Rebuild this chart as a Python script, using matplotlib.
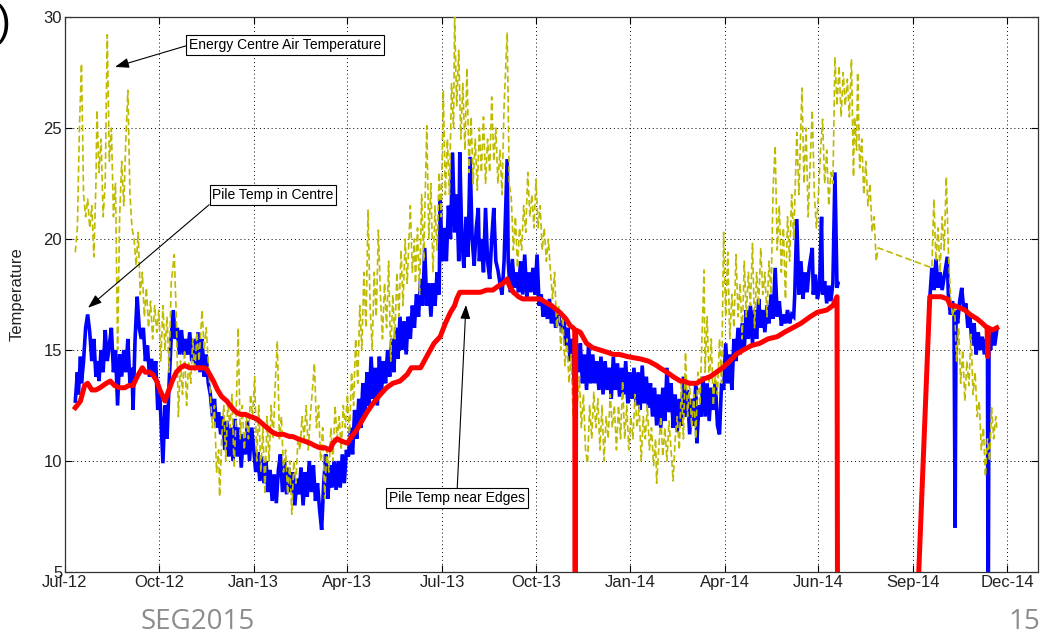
import numpy as np
import matplotlib
matplotlib.use('Agg')
import matplotlib.pyplot as plt

# x axis: days since 1 Jul 2012
TICK_DAYS = [0, 91, 183, 274, 366, 457, 548, 640, 731, 823, 914]
TICK_LABELS = ['Jul-12', 'Oct-12', 'Jan-13', 'Apr-13', 'Jul-13', 'Oct-13',
               'Jan-14', 'Apr-14', 'Jun-14', 'Sep-14', 'Dec-14']

# Energy Centre air temperature (day, degC)
AIR = [
    (10, 19.4), (12, 20.5), (14, 25.0), (16, 27.9), (18, 22.0), (20, 21.0), (22, 21.8), (24, 20.5),
    (26, 21.5), (28, 19.2), (30, 22.5), (31, 25.8), (33, 23.0), (35, 24.5), (37, 21.0), (39, 22.5),
    (41, 29.2), (43, 23.5), (45, 25.0), (47, 21.0), (49, 22.5), (51, 15.0), (53, 21.0), (55, 23.5),
    (57, 21.5), (59, 24.5), (61, 26.7), (63, 22.0), (65, 20.5), (67, 20.0), (69, 18.8), (71, 20.3),
    (73, 17.5), (75, 18.5), (77, 16.5), (79, 17.8), (81, 16.0), (83, 17.2), (85, 15.5), (87, 17.0),
    (89, 15.8), (91, 16.8), (93, 14.5), (95, 17.0), (97, 15.0), (99, 16.5), (101, 14.0), (103, 18.0),
    (106, 19.3), (108, 16.5), (110, 12.0), (112, 14.5), (114, 13.0), (116, 15.0), (118, 12.5),
    (120, 14.5), (122, 13.5), (124, 15.5), (126, 14.0), (128, 15.8), (130, 14.5), (133, 16.8),
    (135, 15.0), (137, 16.0), (139, 14.5), (141, 13.0), (143, 11.5), (145, 12.5), (147, 9.5),
    (149, 10.5), (150, 8.4), (152, 11.0), (154, 12.5), (156, 10.0), (158, 12.7), (160, 11.5),
    (162, 13.0), (164, 9.7), (166, 12.0), (168, 16.0), (170, 11.0), (172, 12.5), (174, 10.5),
    (176, 12.0), (178, 11.0), (180, 13.0), (182, 12.0), (184, 13.8), (186, 10.0), (188, 12.5),
    (190, 9.5), (192, 11.5), (194, 8.5), (196, 12.0), (198, 10.0), (200, 12.5), (202, 11.0),
    (204, 13.5), (206, 15.4), (208, 11.0), (210, 12.0), (212, 9.5), (214, 10.5), (216, 8.5),
    (218, 10.0), (220, 7.6), (222, 10.0), (224, 9.0), (226, 11.0), (228, 10.5), (230, 12.0),
    (232, 11.0), (234, 12.5), (236, 10.5), (238, 12.0), (242, 14.4), (244, 11.5), (246, 12.5),
    (248, 10.0), (250, 11.5), (252, 8.3), (254, 10.5), (256, 9.5), (258, 11.5), (260, 10.0),
    (262, 12.5), (264, 11.0), (266, 12.0), (268, 10.5), (270, 12.5), (272, 11.5), (274, 13.0),
    (276, 11.0), (278, 14.0), (280, 12.5), (282, 15.5), (284, 13.5), (286, 17.0), (288, 15.0),
    (290, 18.5), (292, 16.0), (294, 21.3), (296, 17.0), (298, 15.0), (300, 18.5), (302, 16.5),
    (304, 20.4), (306, 17.5), (308, 15.5), (310, 18.0), (312, 16.0), (314, 19.0), (316, 14.5),
    (318, 17.5), (320, 15.5), (322, 18.5), (324, 16.5), (326, 19.5), (328, 17.0), (330, 20.0),
    (332, 18.0), (335, 21.5), (337, 18.5), (339, 20.0), (340, 18.0), (342, 20.5), (344, 17.5),
    (346, 22.0), (348, 19.0), (351, 25.1), (353, 20.0), (355, 22.5), (357, 18.5), (359, 21.5),
    (361, 19.5), (363, 23.0), (365, 21.0), (367, 26.7), (369, 22.0), (371, 24.5), (373, 22.0),
    (375, 27.0), (377, 25.0), (378, 30.0), (380, 26.0), (382, 28.5), (384, 24.5), (386, 27.0),
    (388, 24.0), (390, 27.7), (392, 23.0), (394, 25.5), (396, 22.5), (398, 24.5), (400, 22.2),
    (402, 25.0), (404, 23.0), (406, 25.5), (408, 22.5), (410, 24.5), (412, 23.0), (414, 26.4),
    (416, 23.5), (418, 25.0), (420, 22.5), (422, 24.0), (424, 22.0), (426, 26.0), (429, 29.3),
    (431, 22.5), (433, 21.8), (435, 19.5), (437, 21.0), (439, 18.7), (441, 20.5), (443, 19.5),
    (445, 21.5), (447, 20.3), (449, 23.0), (451, 21.0), (453, 22.0), (455, 20.5), (457, 22.7),
    (459, 20.5), (461, 21.5), (463, 19.5), (465, 20.5), (467, 19.0), (469, 20.0), (471, 18.5),
    (473, 17.3), (475, 18.5), (477, 16.0), (479, 17.0), (481, 15.0), (483, 16.5), (485, 14.3),
    (487, 15.5), (489, 13.5), (491, 14.8), (493, 12.0), (495, 14.0), (497, 12.5), (499, 13.8),
    (501, 11.5), (503, 13.0), (505, 10.5), (507, 9.9), (509, 12.5), (511, 11.0), (513, 13.1),
    (515, 11.5), (517, 12.8), (519, 10.5), (521, 12.5), (523, 10.0), (525, 12.0), (527, 11.0),
    (529, 13.0), (531, 11.5), (533, 12.5), (535, 10.5), (537, 12.5), (539, 11.0), (541, 13.6),
    (543, 11.0), (545, 12.5), (547, 10.5), (549, 12.0), (551, 11.0), (553, 13.0), (555, 11.5),
    (557, 12.5), (559, 10.0), (561, 12.0), (563, 11.0), (565, 12.5), (567, 10.5), (569, 11.5),
    (571, 9.8), (573, 11.0), (574, 9.0), (576, 10.5), (578, 12.0), (580, 10.2), (582, 11.5),
    (584, 10.0), (586, 11.8), (588, 10.5), (590, 9.1), (592, 11.0), (594, 12.0), (596, 10.5),
    (598, 13.5), (600, 11.0), (602, 14.9), (604, 12.0), (606, 13.5), (608, 11.5), (610, 13.0),
    (612, 11.0), (614, 14.0), (616, 12.5), (618, 15.5), (620, 18.6), (621, 14.0), (623, 16.5),
    (625, 13.5), (627, 15.5), (629, 12.5), (631, 14.0), (633, 13.0), (635, 15.5), (637, 13.5),
    (639, 20.3), (641, 16.5), (643, 19.4), (645, 15.5), (647, 17.5), (649, 16.0), (651, 19.3),
    (653, 16.5), (655, 18.0), (657, 15.5), (659, 19.0), (661, 16.5), (663, 18.5), (665, 17.0),
    (667, 19.8), (669, 16.0), (671, 18.5), (673, 17.0), (675, 19.6), (677, 17.5), (679, 18.5),
    (681, 16.5), (683, 19.0), (685, 17.5), (687, 22.3), (689, 24.2), (691, 19.5), (693, 21.5),
    (695, 18.5), (697, 20.5), (699, 17.3), (701, 21.0), (703, 19.0), (705, 22.0), (707, 20.0),
    (710, 24.8), (712, 22.0), (715, 26.8), (717, 22.5), (719, 25.0), (721, 21.0), (723, 23.5),
    (725, 25.8), (727, 22.0), (729, 20.5), (731, 22.0), (733, 24.0), (735, 25.4), (737, 22.5),
    (739, 24.0), (741, 21.5), (743, 23.0), (745, 22.5), (747, 28.2), (749, 26.0), (751, 27.8),
    (753, 25.5), (755, 27.5), (757, 26.0), (759, 27.2), (761, 25.5), (763, 28.1), (765, 22.8),
    (766, 25.5), (768, 24.0), (769, 27.5), (771, 23.2), (773, 24.5), (775, 22.0), (777, 23.5),
    (779, 21.5), (781, 22.5), (783, 20.3), (785, 21.0), (787, 19.0), (789, 19.6),
    (841, 18.7), (843, 21.8), (845, 19.0), (847, 20.5), (849, 18.5), (851, 21.0), (853, 19.5),
    (855, 22.8), (857, 19.5), (859, 17.5), (861, 16.5), (863, 17.0), (865, 14.5), (867, 16.0),
    (869, 13.5), (871, 15.0), (873, 12.7), (875, 14.5), (877, 13.4), (879, 15.7), (881, 13.0),
    (883, 14.0), (885, 12.0), (887, 12.7), (889, 10.5), (891, 11.5), (893, 9.3), (895, 11.0),
    (897, 10.0), (899, 12.4), (901, 11.0), (903, 12.0), (904, 11.5),
]

# pile temperature in centre, first and second logging periods
CENTRE_A = [
    (10, 12.7), (12, 14.0), (13, 13.0), (15, 14.7), (16, 13.5), (18, 14.5), (20, 16.0), (22, 16.6),
    (24, 15.8), (26, 14.5), (28, 15.5), (30, 13.8), (31, 14.5), (33, 13.6), (35, 15.0), (37, 14.0),
    (39, 15.9), (41, 14.5), (43, 15.2), (45, 16.0), (47, 14.0), (49, 15.0), (51, 12.5), (53, 14.8),
    (55, 13.8), (57, 15.0), (59, 14.0), (61, 15.5), (63, 13.5), (65, 14.2), (66, 12.3), (68, 15.5),
    (70, 17.4), (72, 16.0), (74, 15.5), (76, 16.0), (78, 14.5), (80, 15.2), (82, 13.8), (84, 14.6),
    (86, 13.8), (88, 14.5), (90, 12.3), (92, 13.0), (94, 11.0), (95, 9.9), (97, 12.5), (99, 11.0),
    (101, 13.5), (103, 15.5), (105, 16.8), (107, 15.5), (109, 16.0), (111, 14.8), (113, 15.9),
    (115, 14.8), (117, 15.5), (119, 14.8), (121, 15.8), (123, 14.5), (125, 15.5), (127, 14.2),
    (129, 15.8), (131, 14.0), (133, 15.5), (135, 13.8), (137, 14.8), (139, 13.5), (141, 13.0),
    (143, 12.0), (145, 12.8), (147, 11.5), (149, 12.2), (151, 11.2), (153, 12.0), (155, 10.5),
    (157, 11.8), (159, 10.2), (161, 11.5), (163, 10.0), (165, 11.9), (167, 10.2), (169, 11.5),
    (171, 9.7), (173, 11.2), (175, 10.3), (177, 11.8), (179, 10.0), (181, 11.5), (183, 10.6),
    (185, 9.5), (187, 10.4), (189, 9.1), (191, 10.2), (193, 9.0), (195, 10.0), (197, 8.6),
    (199, 9.6), (201, 8.2), (203, 9.4), (205, 8.1), (207, 9.6), (209, 10.3), (211, 8.6),
    (213, 10.0), (215, 8.5), (217, 9.7), (219, 8.6), (221, 9.5), (223, 8.0), (225, 9.2),
    (227, 8.5), (229, 9.7), (231, 8.0), (233, 9.5), (235, 8.4), (237, 10.0), (239, 8.6),
    (241, 9.8), (243, 8.2), (245, 9.0), (247, 7.8), (249, 6.9), (251, 9.0), (253, 10.3),
    (255, 8.3), (257, 9.8), (259, 8.8), (261, 10.0), (263, 8.7), (265, 10.0), (267, 8.8),
    (269, 10.3), (271, 9.0), (273, 10.5), (275, 10.2), (277, 11.5), (279, 10.3), (281, 12.3),
    (283, 11.0), (285, 12.8), (287, 11.5), (289, 13.5), (291, 12.0), (293, 14.0), (295, 12.5),
    (297, 14.7), (299, 12.8), (301, 14.2), (303, 12.5), (305, 14.7), (307, 13.1), (309, 14.5),
    (311, 13.5), (313, 15.0), (315, 13.8), (317, 15.5), (319, 14.0), (321, 16.0), (323, 14.6),
    (325, 16.5), (327, 15.0), (329, 16.3), (331, 14.8), (333, 16.5), (335, 15.5), (337, 17.0),
    (339, 16.0), (341, 17.5), (343, 16.5), (345, 18.2), (347, 17.0), (349, 19.6), (351, 17.0),
    (353, 18.0), (355, 16.5), (357, 18.0), (359, 17.0), (361, 18.5), (363, 17.5), (364, 21.8),
    (366, 19.0), (368, 20.5), (370, 19.0), (372, 21.5), (374, 20.0), (376, 23.9), (378, 20.3),
    (380, 22.0), (382, 19.0), (383, 23.9), (385, 20.0), (387, 18.7), (389, 21.0), (391, 19.2),
    (393, 23.7), (395, 20.0), (397, 18.8), (399, 20.5), (401, 21.4), (402, 19.0), (404, 20.0),
    (406, 18.5), (408, 21.4), (410, 19.0), (412, 18.2), (414, 20.0), (416, 21.4), (418, 19.0),
    (420, 18.6), (422, 18.0), (424, 17.5), (426, 19.0), (429, 23.6), (430, 19.0), (432, 17.6),
    (434, 19.1), (436, 17.8), (438, 18.5), (440, 17.6), (442, 19.0), (444, 17.5), (446, 19.3),
    (448, 17.4), (450, 18.5), (452, 17.6), (454, 18.7), (456, 17.5), (458, 19.3), (460, 17.0),
    (462, 17.5), (464, 16.5), (466, 17.2), (468, 16.4), (470, 17.3), (472, 16.2), (474, 17.0),
    (476, 16.0), (478, 16.8), (480, 16.3), (482, 15.8), (484, 16.4), (486, 15.2), (488, 16.0),
    (490, 14.5), (492, 15.5), (494, 13.6), (496, 15.0), (498, 14.0), (500, 15.3), (502, 13.5),
    (504, 14.8), (506, 13.2), (508, 15.3), (510, 13.5), (512, 14.8), (514, 13.5), (516, 14.5),
    (518, 13.2), (520, 14.7), (522, 13.0), (524, 14.5), (526, 13.2), (528, 14.2), (530, 12.8),
    (532, 14.7), (534, 13.2), (536, 14.4), (538, 12.9), (540, 14.2), (542, 13.0), (544, 14.5),
    (546, 12.6), (548, 14.0), (550, 12.8), (552, 14.2), (554, 12.5), (556, 14.0), (558, 12.3),
    (560, 14.3), (562, 12.6), (564, 13.8), (566, 12.4), (568, 13.5), (570, 12.0), (572, 13.3),
    (574, 11.6), (576, 13.0), (578, 11.5), (580, 13.3), (582, 11.8), (584, 14.2), (586, 12.2),
    (588, 13.5), (590, 11.5), (592, 13.0), (594, 11.3), (596, 12.8), (598, 11.6), (600, 13.8),
    (602, 12.0), (604, 13.2), (606, 11.2), (608, 12.8), (610, 11.6), (612, 13.5), (613, 10.8),
    (615, 12.5), (617, 12.0), (619, 13.8), (621, 12.0), (623, 13.5), (625, 11.8), (627, 13.3),
    (629, 12.3), (631, 13.5), (633, 11.6), (635, 11.2), (637, 13.5), (639, 13.2), (641, 15.3),
    (643, 13.5), (645, 14.8), (647, 13.2), (649, 15.5), (651, 14.5), (653, 16.0), (655, 14.8),
    (657, 16.2), (659, 15.0), (661, 16.8), (663, 15.5), (665, 17.0), (667, 15.3), (669, 16.8),
    (671, 15.5), (673, 17.3), (675, 16.0), (677, 16.8), (679, 15.8), (681, 17.0), (683, 16.2),
    (685, 17.5), (687, 16.4), (689, 18.7), (691, 16.5), (693, 17.2), (695, 16.1), (697, 16.6),
    (699, 16.2), (701, 16.8), (703, 16.2), (705, 16.6), (707, 16.5), (708, 17.5), (710, 20.9),
    (712, 17.5), (714, 19.0), (716, 17.3), (718, 18.5), (720, 17.6), (722, 18.7), (725, 19.6),
    (726, 17.5), (728, 18.4), (730, 17.3), (732, 17.8), (734, 21.0), (735, 17.5), (737, 18.1),
    (739, 17.1), (741, 17.9), (743, 17.2), (745, 18.0), (747, 23.0), (749, 17.8), (750, 18.0),
]
CENTRE_B = [
    (839, 17.3), (841, 18.7), (843, 17.7), (845, 19.1), (847, 17.8), (849, 18.5), (851, 17.7),
    (853, 18.3), (856, 19.2), (857, 17.5), (859, 16.6), (861, 17.2), (862.5, 16.5), (863.6, 7.0),
    (864.5, 16.8), (866, 16.2), (868, 17.2), (870, 17.8), (872, 16.8), (874, 17.1), (876, 16.0),
    (878, 16.5), (880, 15.2), (882, 16.2), (884, 14.8), (886, 15.8), (888, 15.0), (890, 15.6),
    (892, 14.8), (894, 15.5), (895, 14.9), (895.6, 0.0), (896.5, 15.5), (898, 15.0), (900, 16.0),
    (902, 15.2), (904, 15.9),
]

# pile temperature near edges (zeros are logger dropouts)
EDGES = [
    (10, 12.4), (15, 12.7), (19, 13.4), (22, 13.5), (26, 13.2), (30, 13.2), (34, 13.3), (40, 13.5),
    (44, 13.6), (48, 13.4), (53, 13.3), (58, 13.3), (62, 13.4), (66, 13.4), (70, 13.8), (75, 14.2),
    (78, 14.0), (82, 14.0), (85, 13.9), (89, 13.6), (92, 13.2), (95, 12.9), (97, 12.7), (100, 13.1),
    (104, 13.6), (108, 14.0), (112, 14.2), (116, 14.3), (121, 14.2), (126, 14.2), (131, 14.2),
    (135, 14.2), (138, 14.1), (144, 13.6), (148, 13.2), (152, 12.9), (157, 12.7), (162, 12.4),
    (166, 12.2), (170, 12.1), (175, 12.1), (180, 12.0), (186, 11.9), (191, 11.7), (196, 11.5),
    (201, 11.3), (206, 11.2), (212, 11.2), (218, 11.1), (221, 11.1), (226, 11.0), (232, 10.9),
    (238, 10.8), (242, 10.7), (247, 10.6), (252, 10.6), (257, 10.5), (260, 10.8), (264, 11.0),
    (268, 10.9), (274, 10.8), (278, 11.1), (283, 11.4), (288, 11.8), (293, 12.2), (299, 12.6),
    (306, 13.0), (312, 13.3), (318, 13.5), (325, 13.6), (332, 13.9), (336, 14.2), (345, 14.2),
    (352, 14.8), (358, 15.3), (364, 15.6), (369, 16.2), (374, 16.7), (378, 17.0), (380, 17.3),
    (383, 17.6), (390, 17.6), (396, 17.6), (403, 17.6), (409, 17.7), (415, 17.7), (421, 17.9),
    (425, 18.0), (429, 18.2), (431, 17.9), (435, 17.6), (440, 17.4), (444, 17.3), (452, 17.3),
    (461, 17.3), (468, 17.1), (472, 17.0), (477, 16.8), (480, 16.7), (486, 16.4), (490, 16.1),
    (493, 16.0), (494.5, 15.9), (495, 0.0), (495.5, 15.9), (500, 15.8), (506, 15.3), (512, 15.1),
    (519, 15.0), (526, 14.9), (532, 14.8), (538, 14.8), (546, 14.7), (558, 14.6), (566, 14.5),
    (574, 14.3), (577, 14.2), (584, 14.0), (590, 13.8), (597, 13.6), (600, 13.6), (606, 13.5),
    (613, 13.5), (620, 13.7), (626, 13.8), (632, 14.0), (638, 14.2), (645, 14.5), (651, 14.8),
    (658, 15.0), (666, 15.2), (674, 15.3), (682, 15.5), (691, 15.6), (698, 15.8), (706, 16.0),
    (714, 16.2), (723, 16.5), (730, 16.7), (739, 16.8), (745, 17.0), (749, 17.4), (749.6, 0.0),
    (824, 0.0), (839, 17.4), (845, 17.4), (850, 17.4), (856, 17.3), (859, 17.0), (863, 17.0),
    (868, 16.9), (873, 16.8), (878, 16.6), (885, 16.4), (890, 16.2), (894.6, 16.0), (895.2, 14.7),
    (895.8, 16.0), (900, 15.9), (904, 16.0),
]

AIR_COLOR = '#BDBA00'
FONT = ['Liberation Sans', 'DejaVu Sans']


def main():
    plt.rcParams['font.family'] = FONT
    dpi = 100
    fig = plt.figure(figsize=(1042 / dpi, 635 / dpi), dpi=dpi)
    ax = fig.add_axes([65 / 1042, 1 - 572 / 635, 973 / 1042, 555 / 635])

    for seg in (CENTRE_A, CENTRE_B):
        d, t = zip(*seg)
        ax.plot(d, t, color='#0000FF', lw=2.6, solid_joinstyle='miter', zorder=2)

    d, t = zip(*AIR)
    ax.plot(d, t, color=AIR_COLOR, lw=1.2, linestyle=(0, (4, 2)), zorder=3)

    d, t = zip(*EDGES)
    ax.plot(d, t, color='#FF0000', lw=3.6, zorder=4)

    ax.set_xlim(0, 944)
    ax.set_ylim(5, 30)
    ax.set_xticks(TICK_DAYS)
    ax.set_xticklabels(TICK_LABELS)
    ax.set_yticks([5, 10, 15, 20, 25, 30])
    ax.tick_params(direction='in', top=True, right=True, length=5, width=0.8,
                   labelsize=12, labelcolor='#222222', pad=2)
    ax.grid(True, color='black', linestyle=(0, (1, 3)), linewidth=0.7)
    for s in ax.spines.values():
        s.set_linewidth(0.9)
        s.set_color('#333333')

    ax.set_ylabel('Temperature', fontsize=12, color='#222222')
    ax.yaxis.set_label_coords(-0.041, 0.5)

    box = dict(boxstyle='square,pad=0.2', fc='white', ec='black', lw=0.8)

    def note(txt, tip, at, rel):
        ax.annotate(txt, xy=tip, xytext=at, fontsize=10, ha='center', va='center',
                    bbox=box, zorder=6,
                    arrowprops=dict(arrowstyle='-|>,head_length=0.7,head_width=0.25',
                                    color='black', lw=0.8, relpos=rel,
                                    shrinkA=0, shrinkB=0, mutation_scale=12))

    note('Energy Centre Air Temperature', (48.5, 27.75), (213.5, 28.74), (0, 0.5))
    note('Pile Temp in Centre', (22.3, 16.9), (201.8, 21.98), (0, 0))
    note('Pile Temp near Edges', (389, 17.03), (380.4, 8.33), (0.5, 1))

    # slide furniture around the chart
    fig.text(198 / 1042, 1 - 622 / 635, 'SEG2015', fontsize=20, color='#8C8C8C',
             family=['Open Sans', 'DejaVu Sans'], ha='center', va='center')
    fig.text(1040 / 1042, 1 - 622 / 635, '15', fontsize=20, color='#8C8C8C',
             family=['Open Sans', 'DejaVu Sans'], ha='right', va='center')
    fig.text(4 / 1042, 1 - 24 / 635, ')', fontsize=30, color='black',
             ha='center', va='center')

    fig.savefig('out.png', dpi=dpi)
    plt.close(fig)


if __name__ == '__main__':
    main()
